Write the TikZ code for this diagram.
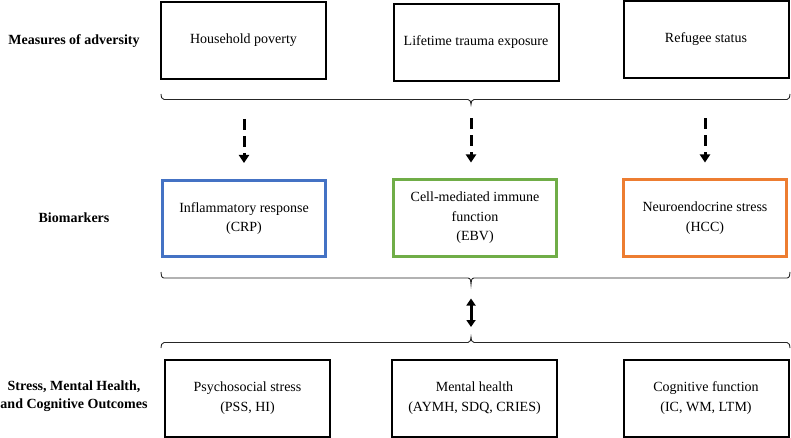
\documentclass[tikz,border=0pt]{standalone}
\usepackage{fontspec}
\setmainfont{Liberation Serif}
\usepackage{tikz}
\usetikzlibrary{positioning, arrows.meta}
\definecolor{crpblue}{HTML}{4472C4}
\definecolor{ebvgreen}{HTML}{70AD47}
\definecolor{hccorange}{HTML}{ED7D31}
\tikzset{
  >={Triangle[width=10pt,length=8pt]},
  box/.style={draw, line width=2pt, minimum width=165pt, minimum height=77pt,
    align=center, inner sep=2pt, font=\fontsize{14}{19.5}\selectfont},
  biobox/.style={box, line width=3pt, minimum width=163pt, minimum height=76pt},
  rowlabel/.style={align=center, font=\fontsize{14}{18}\selectfont\bfseries},
  grp/.style={line width=0.9pt, black!85},
  dasharr/.style={->, line width=3pt, dash pattern=on 11pt off 6pt},
  dblarr/.style={{Triangle[width=9pt,length=7pt]}-{Triangle[width=9pt,length=7pt]}, line width=3pt},
}

\begin{document}
\begin{tikzpicture}[x=1pt, y=-1pt]
  \useasboundingbox (0,0) rectangle (791,438);

  % row labels
  \node[rowlabel] (lmeas) at (74,41) {Measures of adversity};
  \node[rowlabel] (lbio) at (74,218) {Biomarkers};
  \node[rowlabel] (lout) at (74,396) {Stress, Mental Health,\\and Cognitive Outcomes};

  % adversity
  \node[box] (hp) at (243.5,40.5) {Household poverty};
  \node[box] (lte) at (476,42.5) {Lifetime trauma exposure};
  \node[box] (rs) at (706,39.5) {Refugee status};

  % biomarkers
  \node[biobox, draw=crpblue] (ir) at (244,218.5) {Inflammatory response\\(CRP)};
  \node[biobox, draw=ebvgreen] (cmi) at (475,218) {Cell-mediated immune\\function\\(EBV)};
  \node[biobox, draw=hccorange] (ns) at (705,218) {Neuroendocrine stress\\(HCC)};

  % outcomes
  \node[box] (ps) at (247.5,398) {Psychosocial stress\\(PSS, HI)};
  \node[box] (mh) at (474.5,398) {Mental health\\(AYMH, SDQ, CRIES)};
  \node[box] (cf) at (706,398) {Cognitive function\\(IC, WM, LTM)};

  % braces
  \draw[grp] (161,94) to[out=-90,in=180] (164,99.5) -- (468,99.5)
    to[out=0,in=90] (471,104.5) coordinate (tip1) to[out=90,in=180] (474,99.5)
    -- (787,99.5) to[out=0,in=-90] (790,94);
  \draw[grp] (161,272) to[out=-90,in=180] (164,278) -- (468,278)
    to[out=0,in=90] (471,284.5) coordinate (tip2) to[out=90,in=180] (474,278)
    -- (787,278) to[out=0,in=-90] (790,272);
  \draw[grp] (161,348) to[out=90,in=180] (164,342.5) -- (468,342.5)
    to[out=0,in=-90] (471,337) coordinate (tip3) to[out=-90,in=180] (474,342.5)
    -- (787,342.5) to[out=0,in=90] (790,348);

  % arrows
  \draw[dasharr] ([yshift=60pt]ir.north) -- ([yshift=16pt]ir.north);
  \draw[dasharr] ([xshift=-4pt,yshift=60pt]cmi.north) -- ([xshift=-4pt,yshift=16pt]cmi.north);
  \draw[dasharr] ([yshift=60pt]ns.north) -- ([yshift=16pt]ns.north);
  \draw[dblarr] ([yshift=-14pt]tip2) -- ([yshift=10pt]tip3);
\end{tikzpicture}
\end{document}
